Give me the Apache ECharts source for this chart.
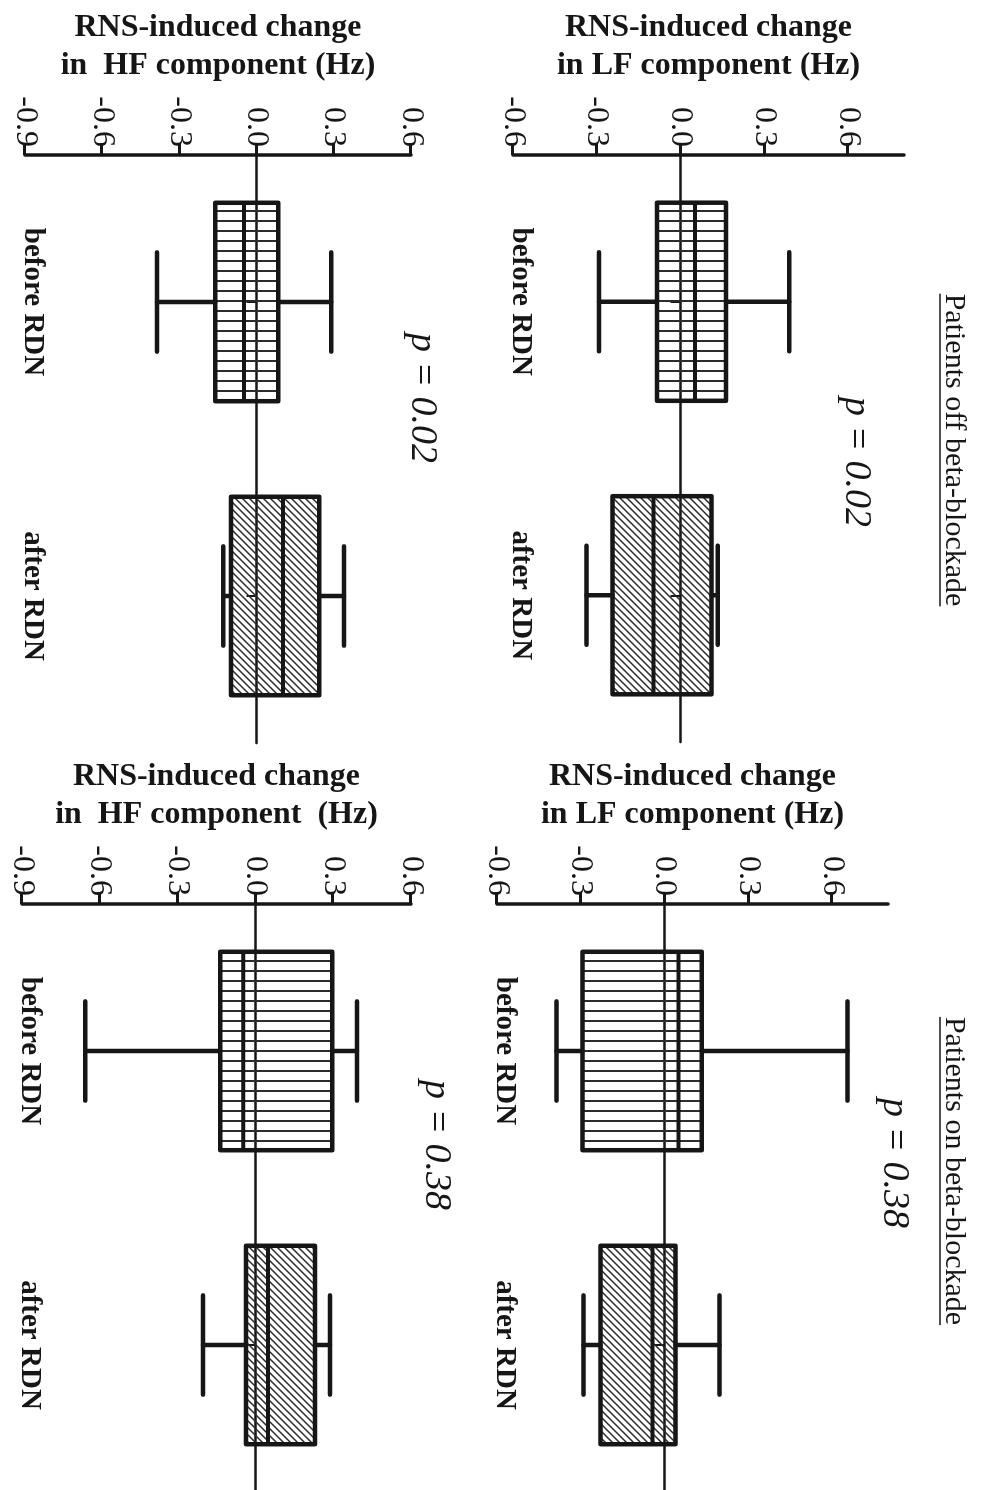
<!DOCTYPE html>
<html>
<head>
<meta charset="utf-8">
<script src="https://cdn.jsdelivr.net/npm/echarts@6/dist/echarts.min.js"></script>
<style>
html, body { margin: 0; padding: 0; background: #fff; overflow: hidden; width: 983px; height: 1490px; }
#wrap { position: absolute; left: 0; top: 0; width: 1490px; height: 983px;
        transform-origin: 0 0; transform: translate(983px, 0) rotate(90deg); }
#chart { width: 1490px; height: 983px; }
</style>
</head>
<body>
<div id="wrap"><div id="chart"></div></div>
<script>
// ---------------- data ----------------
const categories = ['before RDN', 'after RDN'];
// each row: [min, Q1, median, Q3, max]
const lfOffValues = [[-0.292, -0.084, 0.052, 0.163, 0.389], [-0.337, -0.244, -0.097, 0.111, 0.133]];
const lfOnValues  = [[-0.387, -0.294, 0.050, 0.133, 0.655], [-0.290, -0.229, -0.043, 0.039, 0.197]];
const hfOffValues = [[-0.387, -0.161, -0.049, 0.084, 0.290], [-0.130, -0.099, 0.103, 0.243, 0.340]];
const hfOnValues  = [[-0.656, -0.136, -0.047, 0.296, 0.392], [-0.202, -0.036, 0.049, 0.230, 0.288]];
const lfTicks = [-0.6, -0.3, 0.0, 0.3, 0.6];
const hfTicks = [-0.9, -0.6, -0.3, 0.0, 0.3, 0.6];
const lfTitle = 'RNS-induced change\nin LF component (Hz)';
const hfOffTitle = 'RNS-induced change\nin  HF component (Hz)';
const hfOnTitle = 'RNS-induced change\nin  HF component  (Hz)';
const groupTitles = ['Patients off beta-blockade', 'Patients on beta-blockade'];
const pLabels = ['p = 0.02', 'p = 0.38', 'p = 0.02', 'p = 0.38'];

// ---------------- styles ----------------
const FONT = '"Liberation Serif", "Times New Roman", Times, serif';
const INK = '#161616';

function makePattern(kind) {
  const c = document.createElement('canvas');
  const g = c.getContext('2d');
  if (kind === 'v') {
    c.width = 10; c.height = 4;
    g.fillStyle = '#2b2b2b';
    g.fillRect(0, 0, 2, 4);
  } else {
    const s = 7;
    c.width = s; c.height = s;
    g.strokeStyle = '#2b2b2b';
    g.lineWidth = 1.5;
    g.beginPath();
    g.moveTo(-1, s + 1); g.lineTo(s + 1, -1);
    g.moveTo(-1, 1); g.lineTo(1, -1);
    g.moveTo(s - 1, s + 1); g.lineTo(s + 1, s - 1);
    g.stroke();
  }
  return { image: c, repeat: 'repeat' };
}
const patterns = [makePattern('v'), makePattern('d')];

function renderBox(params, api) {
  const k = api.value(0);
  const pMin = api.coord([k, api.value(1)]);
  const pQ1 = api.coord([k, api.value(2)]);
  const pMed = api.coord([k, api.value(3)]);
  const pQ3 = api.coord([k, api.value(4)]);
  const pMax = api.coord([k, api.value(5)]);
  const band = api.size([1, 0])[0];
  const bw = band * 0.675;
  const cw = bw / 2;
  const cx = pMed[0];
  const ls = { stroke: INK, lineWidth: 4.5, lineCap: 'round' };
  return {
    type: 'group',
    children: [
      { type: 'line', shape: { x1: cx, y1: pMin[1], x2: cx, y2: pQ1[1] }, style: ls },
      { type: 'line', shape: { x1: cx, y1: pQ3[1], x2: cx, y2: pMax[1] }, style: ls },
      { type: 'line', shape: { x1: cx - cw / 2, y1: pMin[1], x2: cx + cw / 2, y2: pMin[1] }, style: ls },
      { type: 'line', shape: { x1: cx - cw / 2, y1: pMax[1], x2: cx + cw / 2, y2: pMax[1] }, style: ls },
      { type: 'rect', shape: { x: cx - bw / 2, y: pQ3[1], width: bw, height: pQ1[1] - pQ3[1] },
        style: { fill: patterns[k], stroke: INK, lineWidth: 4.5, lineJoin: 'round' } },
      { type: 'line', shape: { x1: cx - bw / 2, y1: pMed[1], x2: cx + bw / 2, y2: pMed[1] },
        style: { stroke: INK, lineWidth: 4 } }
    ]
  };
}

// ---------------- panels (layout) ----------------
const panels = [
  { values: lfOffValues, ticks: lfTicks, min: -0.6, max: 0.8, title: lfTitle, grid: { left: 155, top: 79, width: 587, height: 391 } },
  { values: lfOnValues,  ticks: lfTicks, min: -0.6, max: 0.8, title: lfTitle, grid: { left: 904, top: 95, width: 588, height: 391 } },
  { values: hfOffValues, ticks: hfTicks, min: -0.9, max: 0.6, title: hfOffTitle, grid: { left: 155, top: 572, width: 588, height: 386 } },
  { values: hfOnValues,  ticks: hfTicks, min: -0.9, max: 0.6, title: hfOnTitle, grid: { left: 904, top: 572, width: 588, height: 389 } }
];
const pPos = [[462, 127], [1163, 89], [398, 561], [1145, 547]];
const groupPos = [[450, 29], [1171, 29]];

const grids = [], xAxes = [], yAxes = [], series = [];
panels.forEach((p, i) => {
  grids.push(Object.assign({ containLabel: false, outerBoundsMode: 'none' }, p.grid));
  yAxes.push({
    type: 'value', gridIndex: i, min: p.min, max: p.max, interval: 0.3,
    axisLine: { show: true, onZero: false, lineStyle: { color: INK, width: 3.5 } },
    axisTick: { show: true, length: 12, customValues: p.ticks, lineStyle: { color: INK, width: 3 } },
    axisLabel: { customValues: p.ticks, formatter: v => Number(v).toFixed(1), margin: 8,
                 fontFamily: FONT, fontSize: 32, color: INK },
    splitLine: { show: false },
    name: p.title, nameLocation: 'middle', nameRotate: 90, nameGap: 70,
    nameTextStyle: { fontFamily: FONT, fontSize: 32, fontWeight: 'bold', color: INK, lineHeight: 38 }
  });
  xAxes.push({
    type: 'category', gridIndex: i, data: categories, position: 'bottom', boundaryGap: true,
    axisLine: { show: true, onZero: true, lineStyle: { color: INK, width: 2.5 } },
    axisTick: { show: true, alignWithLabel: true, length: 10, lineStyle: { color: INK, width: 2 } },
    axisLabel: { show: false }, splitLine: { show: false }
  });
  xAxes.push({
    type: 'category', gridIndex: i, data: categories, position: 'bottom', boundaryGap: true,
    axisLine: { show: false, onZero: false }, axisTick: { show: false }, splitLine: { show: false },
    axisLabel: { show: true, interval: 0, margin: 7, verticalAlign: 'bottom',
                 fontFamily: FONT, fontSize: 29, fontWeight: 'bold', color: INK }
  });
  series.push({
    type: 'custom', xAxisIndex: 2 * i, yAxisIndex: i, silent: true,
    data: p.values.map((d, k) => [k].concat(d)),
    renderItem: renderBox
  });
});

// text annotations
const measure = document.createElement('canvas').getContext('2d');
const graphics = [];
groupTitles.forEach((t, i) => {
  const font = '30px ' + FONT;
  measure.font = font;
  const w = measure.measureText(t).width;
  const [cx, cy] = groupPos[i];
  graphics.push({ type: 'text', x: cx, y: cy, silent: true,
    style: { text: t, font: font, fill: INK, align: 'center', verticalAlign: 'middle' } });
  graphics.push({ type: 'line', silent: true,
    shape: { x1: cx - w / 2, y1: cy + 14, x2: cx + w / 2, y2: cy + 14 },
    style: { stroke: INK, lineWidth: 1.5 } });
});
pLabels.forEach((t, i) => {
  graphics.push({ type: 'text', x: pPos[i][0], y: pPos[i][1], silent: true,
    style: { text: t, font: 'italic 38px ' + FONT, fill: INK, align: 'center', verticalAlign: 'middle' } });
});

const chart = echarts.init(document.getElementById('chart'), null, { renderer: 'canvas', width: 1490, height: 983 });
chart.setOption({
  animation: false,
  backgroundColor: '#ffffff',
  grid: grids,
  xAxis: xAxes,
  yAxis: yAxes,
  series: series,
  graphic: graphics
});
</script>
</body>
</html>
